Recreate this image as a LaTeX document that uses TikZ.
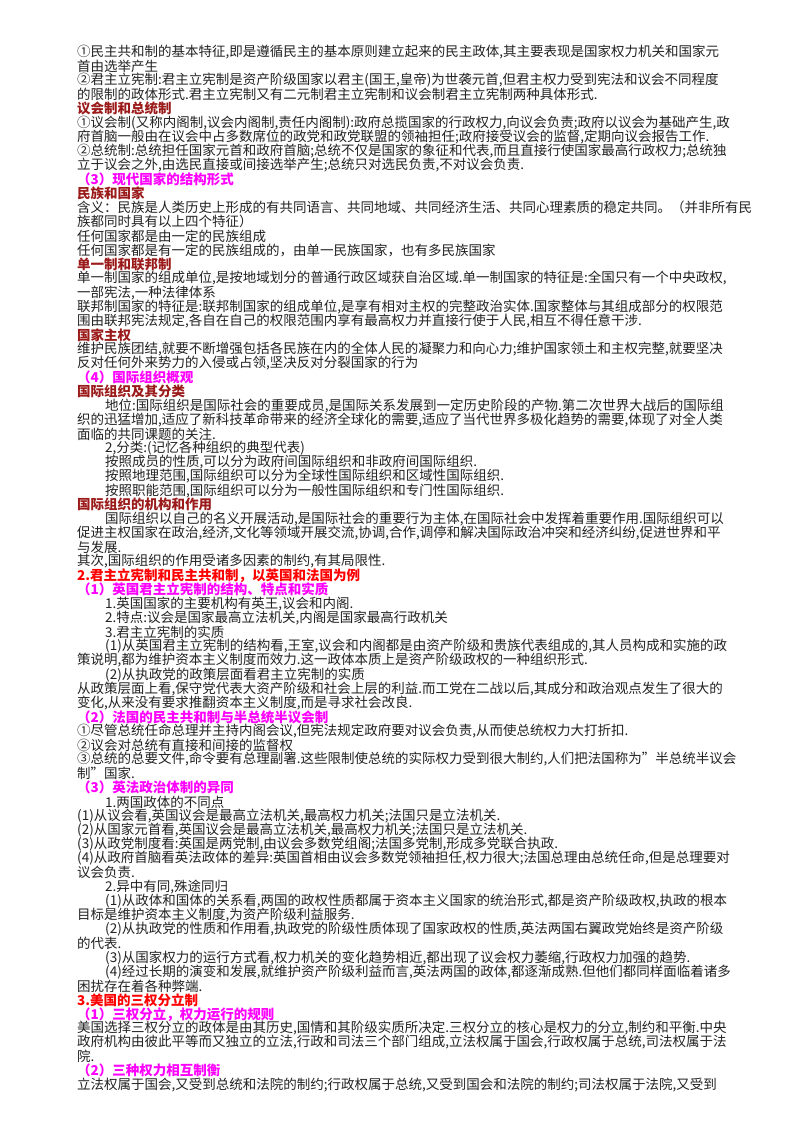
\documentclass[tikz,border=0pt]{standalone}
\usepackage{fontspec}
\setmainfont{Noto Sans CJK SC}
\definecolor{hdred}{HTML}{9B1B1B}
\definecolor{mag}{HTML}{FF00FF}
\definecolor{brt}{HTML}{FF0000}
\definecolor{txt}{HTML}{222222}
\newcount\lnum
\newcommand{\Ln}[3][]{\node[line,#1] (n\the\lnum) at ({77+#2},{52+14.15*\the\lnum}) {#3};\global\advance\lnum by 1\relax}
\tikzset{
  line/.style={anchor=west,inner sep=0pt,font=\fontsize{13.5}{14}\selectfont,text=txt},
  hA/.style={text=hdred,font=\fontsize{13.5}{14}\selectfont\bfseries},
  hB/.style={text=mag,font=\fontsize{13.5}{14}\selectfont\bfseries},
  hC/.style={text=brt,font=\fontsize{13.5}{14}\selectfont\bfseries}
}
\begin{document}
\begin{tikzpicture}[x=1pt,y=-1pt]
\fill[white] (0,0) rectangle (800,1132);
\useasboundingbox (0,0) rectangle (800,1132);
\Ln{0}{①民主共和制的基本特征,即是遵循民主的基本原则建立起来的民主政体,其主要表现是国家权力机关和国家元}
\Ln{0}{首由选举产生}
\Ln{0}{②君主立宪制:君主立宪制是资产阶级国家以君主(国王,皇帝)为世袭元首,但君主权力受到宪法和议会不同程度}
\Ln{0}{的限制的政体形式.君主立宪制又有二元制君主立宪制和议会制君主立宪制两种具体形式.}
\Ln[hA]{0}{议会制和总统制}
\Ln{0}{①议会制(又称内阁制,议会内阁制,责任内阁制):政府总揽国家的行政权力,向议会负责;政府以议会为基础产生,政}
\Ln{0}{府首脑一般由在议会中占多数席位的政党和政党联盟的领袖担任;政府接受议会的监督,定期向议会报告工作.}
\Ln{0}{②总统制:总统担任国家元首和政府首脑;总统不仅是国家的象征和代表,而且直接行使国家最高行政权力;总统独}
\Ln{0}{立于议会之外,由选民直接或间接选举产生;总统只对选民负责,不对议会负责.}
\Ln[hB]{0}{（3）现代国家的结构形式}
\Ln[hA]{0}{民族和国家}
\Ln{0}{含义：民族是人类历史上形成的有共同语言、共同地域、共同经济生活、共同心理素质的稳定共同。（并非所有民}
\Ln{0}{族都同时具有以上四个特征）}
\Ln{0}{任何国家都是由一定的民族组成}
\Ln{0}{任何国家都是有一定的民族组成的，由单一民族国家，也有多民族国家}
\Ln[hA]{0}{单一制和联邦制}
\Ln{0}{单一制国家的组成单位,是按地域划分的普通行政区域获自治区域.单一制国家的特征是:全国只有一个中央政权,}
\Ln{0}{一部宪法,一种法律体系}
\Ln{0}{联邦制国家的特征是:联邦制国家的组成单位,是享有相对主权的完整政治实体.国家整体与其组成部分的权限范}
\Ln{0}{围由联邦宪法规定,各自在自己的权限范围内享有最高权力并直接行使于人民,相互不得任意干涉.}
\Ln[hA]{0}{国家主权}
\Ln{0}{维护民族团结,就要不断增强包括各民族在内的全体人民的凝聚力和向心力;维护国家领土和主权完整,就要坚决}
\Ln{0}{反对任何外来势力的入侵或占领,坚决反对分裂国家的行为}
\Ln[hB]{0}{（4）国际组织概观}
\Ln[hA]{0}{国际组织及其分类}
\Ln{28}{地位:国际组织是国际社会的重要成员,是国际关系发展到一定历史阶段的产物.第二次世界大战后的国际组}
\Ln{0}{织的迅猛增加,适应了新科技革命带来的经济全球化的需要,适应了当代世界多极化趋势的需要,体现了对全人类}
\Ln{0}{面临的共同课题的关注.}
\Ln{28}{2,分类:(记忆各种组织的典型代表)}
\Ln{28}{按照成员的性质,可以分为政府间国际组织和非政府间国际组织.}
\Ln{28}{按照地理范围,国际组织可以分为全球性国际组织和区域性国际组织.}
\Ln{28}{按照职能范围,国际组织可以分为一般性国际组织和专门性国际组织.}
\Ln[hA]{0}{国际组织的机构和作用}
\Ln{28}{国际组织以自己的名义开展活动,是国际社会的重要行为主体,在国际社会中发挥着重要作用.国际组织可以}
\Ln{0}{促进主权国家在政治,经济,文化等领域开展交流,协调,合作,调停和解决国际政治冲突和经济纠纷,促进世界和平}
\Ln{0}{与发展.}
\Ln{0}{其次,国际组织的作用受诸多因素的制约,有其局限性.}
\Ln[hC]{0}{2.君主立宪制和民主共和制，以英国和法国为例}
\Ln[hB]{0}{（1）英国君主立宪制的结构、特点和实质}
\Ln{28}{1.英国国家的主要机构有英王,议会和内阁.}
\Ln{28}{2.特点:议会是国家最高立法机关,内阁是国家最高行政机关}
\Ln{28}{3.君主立宪制的实质}
\Ln{28}{(1)从英国君主立宪制的结构看,王室,议会和内阁都是由资产阶级和贵族代表组成的,其人员构成和实施的政}
\Ln{0}{策说明,都为维护资本主义制度而效力.这一政体本质上是资产阶级政权的一种组织形式.}
\Ln{28}{(2)从执政党的政策层面看君主立宪制的实质}
\Ln{0}{从政策层面上看,保守党代表大资产阶级和社会上层的利益.而工党在二战以后,其成分和政治观点发生了很大的}
\Ln{0}{变化,从来没有要求推翻资本主义制度,而是寻求社会改良.}
\Ln[hB]{0}{（2）法国的民主共和制与半总统半议会制}
\Ln{0}{①尽管总统任命总理并主持内阁会议,但宪法规定政府要对议会负责,从而使总统权力大打折扣.}
\Ln{0}{②议会对总统有直接和间接的监督权}
\Ln{0}{③总统的总要文件,命令要有总理副署.这些限制使总统的实际权力受到很大制约,人们把法国称为\symbol{34}半总统半议会}
\Ln{0}{制\symbol{34}国家.}
\Ln[hB]{0}{（3）英法政治体制的异同}
\Ln{28}{1.两国政体的不同点}
\Ln{0}{(1)从议会看,英国议会是最高立法机关,最高权力机关;法国只是立法机关.}
\Ln{0}{(2)从国家元首看,英国议会是最高立法机关,最高权力机关;法国只是立法机关.}
\Ln{0}{(3)从政党制度看:英国是两党制,由议会多数党组阁;法国多党制,形成多党联合执政.}
\Ln{0}{(4)从政府首脑看英法政体的差异:英国首相由议会多数党领袖担任,权力很大;法国总理由总统任命,但是总理要对}
\Ln{0}{议会负责.}
\Ln{28}{2.异中有同,殊途同归}
\Ln{28}{(1)从政体和国体的关系看,两国的政权性质都属于资本主义国家的统治形式,都是资产阶级政权,执政的根本}
\Ln{0}{目标是维护资本主义制度,为资产阶级利益服务.}
\Ln{28}{(2)从执政党的性质和作用看,执政党的阶级性质体现了国家政权的性质,英法两国右翼政党始终是资产阶级}
\Ln{0}{的代表.}
\Ln{28}{(3)从国家权力的运行方式看,权力机关的变化趋势相近,都出现了议会权力萎缩,行政权力加强的趋势.}
\Ln{28}{(4)经过长期的演变和发展,就维护资产阶级利益而言,英法两国的政体,都逐渐成熟.但他们都同样面临着诸多}
\Ln{0}{困扰存在着各种弊端.}
\Ln[hC]{0}{3.美国的三权分立制}
\Ln[hB]{0}{（1）三权分立，权力运行的规则}
\Ln{0}{美国选择三权分立的政体是由其历史,国情和其阶级实质所决定.三权分立的核心是权力的分立,制约和平衡.中央}
\Ln{0}{政府机构由彼此平等而又独立的立法,行政和司法三个部门组成,立法权属于国会,行政权属于总统,司法权属于法}
\Ln{0}{院.}
\Ln[hB]{0}{（2）三种权力相互制衡}
\Ln{0}{立法权属于国会,又受到总统和法院的制约;行政权属于总统,又受到国会和法院的制约;司法权属于法院,又受到}
\end{tikzpicture}
\end{document}
